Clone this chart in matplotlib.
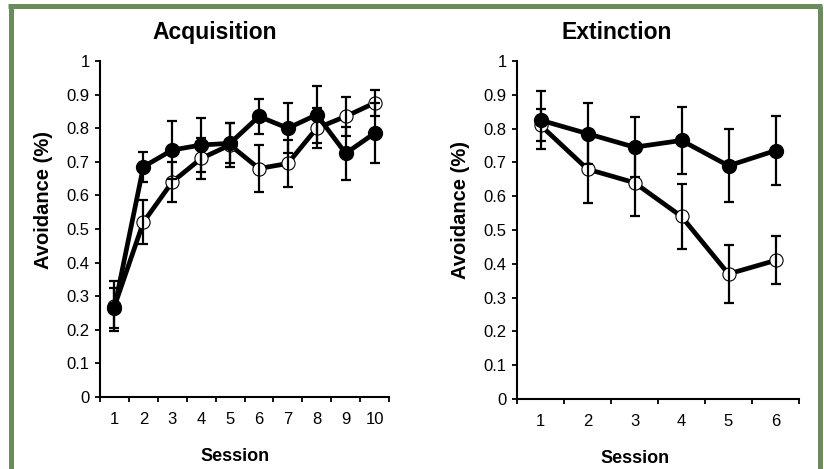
import numpy as np
import matplotlib.pyplot as plt
from matplotlib.lines import Line2D

plt.rcParams['font.family'] = ['Liberation Sans', 'DejaVu Sans']

# Acquisition data (sessions 1-10)
acq_sessions = [1, 2, 3, 4, 5, 6, 7, 8, 9, 10]
acq_filled = [0.265, 0.685, 0.735, 0.75, 0.755, 0.835, 0.80, 0.84, 0.725, 0.785]
acq_filled_err = [0.06, 0.045, 0.085, 0.08, 0.06, 0.052, 0.075, 0.085, 0.08, 0.09]
acq_open = [0.27, 0.52, 0.64, 0.71, 0.75, 0.68, 0.695, 0.80, 0.835, 0.875]
acq_open_err = [0.075, 0.065, 0.06, 0.062, 0.065, 0.07, 0.07, 0.06, 0.057, 0.038]

# Extinction data (sessions 1-6)
ext_sessions = [1, 2, 3, 4, 5, 6]
ext_filled = [0.825, 0.785, 0.745, 0.765, 0.69, 0.735]
ext_filled_err = [0.085, 0.09, 0.088, 0.1, 0.108, 0.102]
ext_open = [0.81, 0.68, 0.64, 0.54, 0.37, 0.41]
ext_open_err = [0.047, 0.1, 0.1, 0.095, 0.085, 0.071]

y_ticks = [0, 0.1, 0.2, 0.3, 0.4, 0.5, 0.6, 0.7, 0.8, 0.9, 1]
y_ticklabels = ['0', '0.1', '0.2', '0.3', '0.4', '0.5', '0.6', '0.7', '0.8', '0.9', '1']

W, H = 824, 469
fig = plt.figure(figsize=(W / 100, H / 100), dpi=100)
fig.patch.set_facecolor('white')

# green frame
green = '#6b8b5f'
fig.add_artist(Line2D([10.5 / W, 10.5 / W], [0, 1 - 6.5 / H], color=green, lw=3.6,
                      solid_capstyle='butt', transform=fig.transFigure))
fig.add_artist(Line2D([8 / W, 822 / W], [1 - 6.5 / H, 1 - 6.5 / H], color=green, lw=3.6,
                      solid_capstyle='butt', transform=fig.transFigure))
fig.add_artist(Line2D([819.5 / W, 819.5 / W], [0, 1 - 6.5 / H], color=green, lw=3.6,
                      solid_capstyle='butt', transform=fig.transFigure))


def draw_panel(ax, sessions, filled, filled_err, opn, opn_err, title, title_x, xlabel_x, ylabel_y):
    n = len(sessions)
    # open circles
    ax.plot(sessions, opn, color='black', lw=3.4, marker='o', ms=9.5,
            mfc='white', mec='black', mew=0.8, zorder=2, clip_on=False)
    ax.errorbar(sessions, opn, yerr=opn_err, fmt='none', ecolor='black',
                elinewidth=1.6, capsize=3.6, capthick=1.6, zorder=3, clip_on=False)
    # filled circles
    ax.plot(sessions, filled, color='black', lw=3.4, marker='o', ms=10,
            mfc='black', mec='black', zorder=4, clip_on=False)
    ax.errorbar(sessions, filled, yerr=filled_err, fmt='none', ecolor='black',
                elinewidth=1.6, capsize=3.6, capthick=1.6, zorder=5, clip_on=False)

    ax.set_xlim(0.5, n + 0.5)
    ax.set_ylim(0, 1)
    ax.set_yticks(y_ticks)
    ax.set_yticklabels(y_ticklabels)
    ax.set_xticks(sessions)
    ax.set_xticks(np.arange(0.5, n + 1, 1), minor=True)
    ax.tick_params(axis='x', which='major', length=0, pad=11, labelsize=12)
    ax.tick_params(axis='x', which='minor', length=3.5, width=1.3, direction='out')
    ax.tick_params(axis='y', length=3.5, width=1.3, direction='out', pad=4, labelsize=12)
    for s in ['top', 'right']:
        ax.spines[s].set_visible(False)
    for s in ['left', 'bottom']:
        ax.spines[s].set_linewidth(1.5)
    ax.set_title(title, fontsize=16.5, fontweight='bold', x=title_x, pad=16)
    ax.set_xlabel('Session', fontsize=13, fontweight='bold', labelpad=15)
    ax.xaxis.label.set_x(xlabel_x)
    ax.set_ylabel('Avoidance (%)', fontsize=14.5, fontweight='bold', labelpad=10)
    ax.yaxis.label.set_y(ylabel_y)


ax1 = fig.add_axes([100 / W, 1 - 397 / H, 289 / W, 336 / H])
draw_panel(ax1, acq_sessions, acq_filled, acq_filled_err, acq_open, acq_open_err,
           'Acquisition', 0.396, 0.467, 0.586)

ax2 = fig.add_axes([517 / W, 1 - 399 / H, 282 / W, 338 / H])
draw_panel(ax2, ext_sessions, ext_filled, ext_filled_err, ext_open, ext_open_err,
           'Extinction', 0.355, 0.418, 0.56)

fig.savefig('out.png', dpi=100)
